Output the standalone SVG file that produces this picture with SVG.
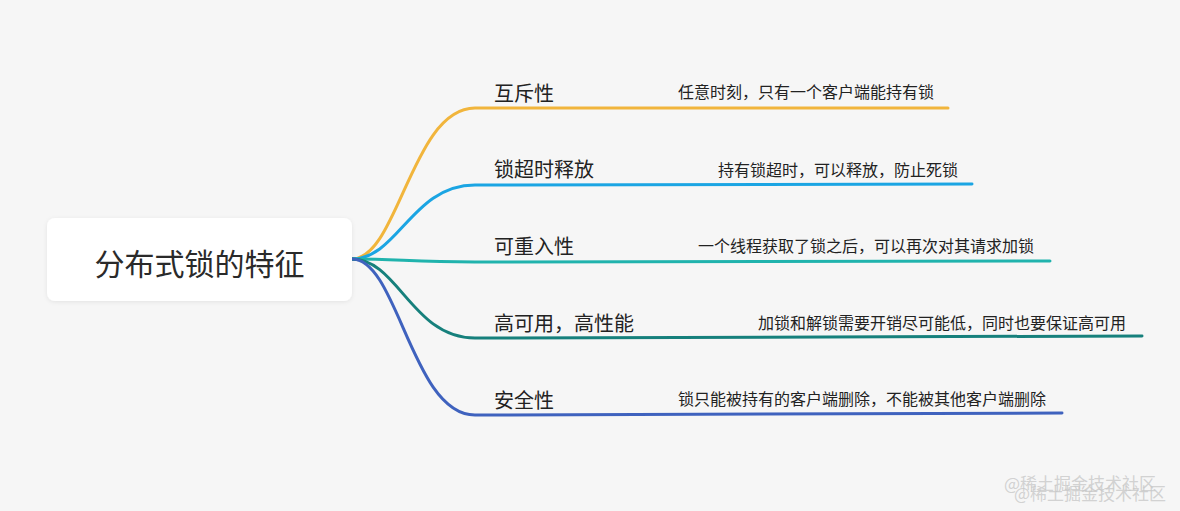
<svg xmlns="http://www.w3.org/2000/svg" width="1180" height="511" viewBox="0 0 1180 511">
<defs>
<filter id="sh" x="-10%" y="-20%" width="120%" height="150%">
<feDropShadow dx="0" dy="1" stdDeviation="2" flood-color="#000" flood-opacity="0.08"/>
</filter>
<style>
text{font-family:"Noto Sans CJK SC","Noto Sans",sans-serif;fill:#222;}
.root{font-size:30px;fill:#2a2a2a;}
.br{font-size:20px;}
.ch{font-size:16px;}
.ln{fill:none;stroke-width:3;stroke-linecap:round;}
.wm{font-size:17px;fill:#c8c8c8;fill-opacity:0.8;}
</style>
</defs>
<rect width="1180" height="511" fill="#f6f6f6"/>
<g id="connectors">
<path class="ln" stroke="#f1b53c" d="M352,259 C398,259 412,108 475,108 L948,108"/>
<path class="ln" stroke="#1ba5e3" d="M352,259 C398,259 412,185 475,185 L972,184"/>
<path class="ln" stroke="#20b3ad" d="M352,259 C398,259 412,262 475,262 L1050,261"/>
<path class="ln" stroke="#16807c" d="M352,259 C398,259 412,338 475,338 L1142,336"/>
<path class="ln" stroke="#3f62be" d="M352,259 C398,259 412,415 475,415 L1062,413"/>
</g>
<g id="root">
<rect x="47" y="218" width="305" height="83" rx="8" fill="#ffffff" filter="url(#sh)"/>
<text class="root" x="199.5" y="262" text-anchor="middle" dominant-baseline="central">分布式锁的特征</text>
</g>
<g id="n1">
<text class="br" x="494" y="92" dominant-baseline="central">互斥性</text>
<text class="ch" x="678" y="91" dominant-baseline="central">任意时刻，只有一个客户端能持有锁</text>
</g>
<g id="n2">
<text class="br" x="494" y="168" dominant-baseline="central">锁超时释放</text>
<text class="ch" x="718" y="169" dominant-baseline="central">持有锁超时，可以释放，防止死锁</text>
</g>
<g id="n3">
<text class="br" x="494" y="245" dominant-baseline="central">可重入性</text>
<text class="ch" x="698" y="245" dominant-baseline="central">一个线程获取了锁之后，可以再次对其请求加锁</text>
</g>
<g id="n4">
<text class="br" x="494" y="322" dominant-baseline="central">高可用，高性能</text>
<text class="ch" x="758" y="322" dominant-baseline="central">加锁和解锁需要开销尽可能低，同时也要保证高可用</text>
</g>
<g id="n5">
<text class="br" x="494" y="399" dominant-baseline="central">安全性</text>
<text class="ch" x="678" y="398" dominant-baseline="central">锁只能被持有的客户端删除，不能被其他客户端删除</text>
</g>
<g id="watermark">
<text class="wm" x="1004" y="490">@稀土掘金技术社区</text>
<text class="wm" x="1014" y="500">@稀土掘金技术社区</text>
</g>
</svg>
